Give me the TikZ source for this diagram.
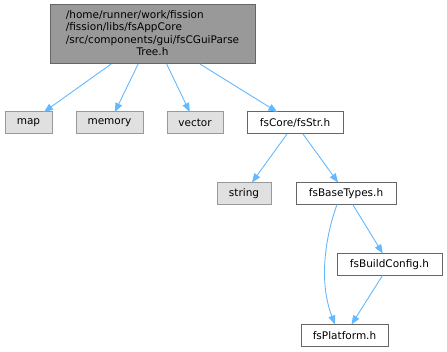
\documentclass[tikz,border=0pt]{standalone}
\usepackage{fontspec}
\setmainfont{DejaVu Sans}
\usetikzlibrary{arrows.meta}
\definecolor{edgec}{HTML}{63B8FF}
\definecolor{rootfill}{HTML}{999999}
\definecolor{darkb}{HTML}{666666}
\definecolor{sysfill}{HTML}{E0E0E0}
\definecolor{sysb}{HTML}{999999}
\begin{document}
\begin{tikzpicture}[x=1pt,y=-1pt,
  every node/.style={font=\fontsize{10.5}{12.4}\selectfont, inner sep=0pt, outer sep=0pt, line width=1pt},
  rootbox/.style={draw=darkb, fill=rootfill},
  sysbox/.style={draw=sysb, fill=sysfill},
  filebox/.style={draw=darkb, fill=white},
  dep/.style={draw=edgec, line width=0.9pt, -{Triangle[length=9pt,width=7pt]}}]
\useasboundingbox (0,0) rectangle (447,352);
\node[rootbox, minimum width=205pt, minimum height=59pt] (root) at (152.5,34.5)
  {\begin{tabular}{@{}l@{}}/home/runner/work/fission\\/fission/libs/fsAppCore\\/src/components/gui/fsCGuiParse\\\multicolumn{1}{@{}c@{}}{Tree.h}\end{tabular}};
\node[sysbox, minimum width=47pt, minimum height=22pt] (map) at (28.5,123) {map};
\node[sysbox, minimum width=67pt, minimum height=22pt] (memory) at (109.5,123) {memory};
\node[sysbox, minimum width=56pt, minimum height=22pt] (vector) at (195,123) {vector};
\node[filebox, minimum width=96pt, minimum height=22pt] (str) at (295,123) {fsCore/fsStr.h};
\node[sysbox, minimum width=54pt, minimum height=22pt] (string) at (244,193.5) {string};
\node[filebox, minimum width=100pt, minimum height=22pt] (base) at (346,193.5) {fsBaseTypes.h};
\node[filebox, minimum width=105pt, minimum height=22pt] (build) at (389.5,264.5) {fsBuildConfig.h};
\node[filebox, minimum width=87pt, minimum height=22pt] (plat) at (344.5,335.5) {fsPlatform.h};
\coordinate (cs) at ([xshift=41pt]base.south west);
\coordinate (ce) at ([xshift=34pt]plat.north west);
\draw[dep] (root) -- (map);
\draw[dep] (root) -- (memory);
\draw[dep] (root) -- (vector);
\draw[dep] (root) -- (str);
\draw[dep] (str) -- (string);
\draw[dep] (str) -- (base);
\draw[dep] (cs) .. controls (326,235) and (318,280) .. (ce);
\draw[dep] (base) -- (build);
\draw[dep] (build) -- (plat);
\end{tikzpicture}
\end{document}
